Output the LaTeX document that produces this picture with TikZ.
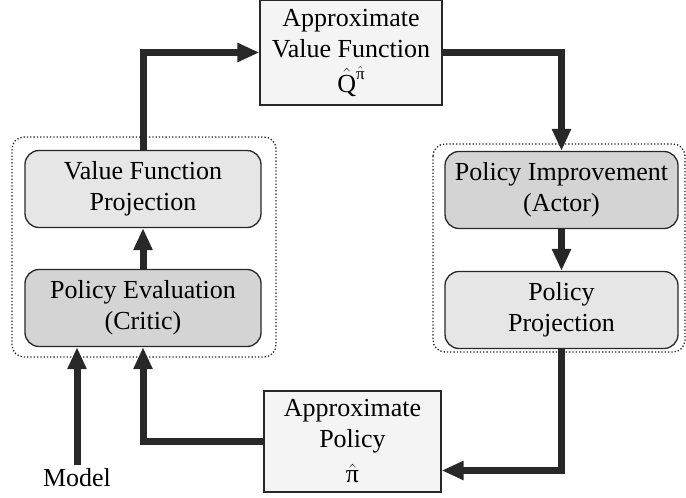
\documentclass[tikz,border=0pt]{standalone}
\usepackage{fontspec}
\setmainfont{Liberation Serif}
\usetikzlibrary{arrows.meta,positioning}
\definecolor{acline}{RGB}{40,40,40}
\definecolor{acpale}{RGB}{244,244,244}
\definecolor{aclight}{RGB}{230,230,230}
\definecolor{acmid}{RGB}{212,212,212}
\tikzset{
  approxbox/.style={rectangle,draw=acline,line width=1.3pt,fill=acpale,align=center,inner sep=2pt},
  stagebox/.style={rectangle,draw=acline,line width=1.3pt,rounded corners=14pt,fill=aclight,align=center,inner sep=2pt,minimum width=236pt,minimum height=77pt},
  corebox/.style={stagebox,fill=acmid},
  groupbox/.style={draw=acline,dotted,line width=1.3pt,rounded corners=12pt},
  flow/.style={-{Triangle[length=22pt,width=18pt]},line width=7pt,draw=acline}
}
\newcommand{\hatpi}{$\hat{\hbox{π}}$}

\begin{document}
\begin{tikzpicture}[x=1pt,y=-1pt,font=\rmfamily\fontsize{26}{31}\selectfont]
  \useasboundingbox (0,0) rectangle (686,498);
  \node[approxbox,minimum width=182pt,minimum height=105pt] (vq) at (351,52.5)
    {Approximate\\Value Function\\[4pt]$\hat{\hbox{Q}}$\raisebox{0.5em}{\fontsize{17}{17}\selectfont\hatpi}};
  \node[approxbox,minimum width=177pt,minimum height=101pt] (pib) at (352.5,441.5)
    {Approximate\\Policy\\[4pt]\hatpi};
  \node[stagebox] (vfp) at (143,189) {Value Function\\Projection};
  \node[corebox] (pe) at (143,308) {Policy Evaluation\\(Critic)};
  \node[corebox,minimum width=233pt] (pim) at (561.5,190) {Policy Improvement\\(Actor)};
  \node[stagebox,minimum width=233pt] (pp) at (561.5,310) {Policy\\Projection};
  \node (model) at (77,478) {Model};
  % dotted groups
  \draw[groupbox] (12,137) rectangle (276,357);
  \draw[groupbox] (433,144) rectangle (685,352);
  % loop
  \draw[flow] (pe) -- (vfp);
  \draw[flow] (vfp.north) |- (vq.west);
  \draw[flow] (vq.east) -| (pim.north);
  \draw[flow] (pim) -- (pp);
  \draw[flow] (pp.south) |- ([yshift=-29pt]pib.east);
  \draw[flow] (pib.west) -| (pe.south);
  \draw[flow] (model.north) -- (model.north |- pe.south);
\end{tikzpicture}
\end{document}
